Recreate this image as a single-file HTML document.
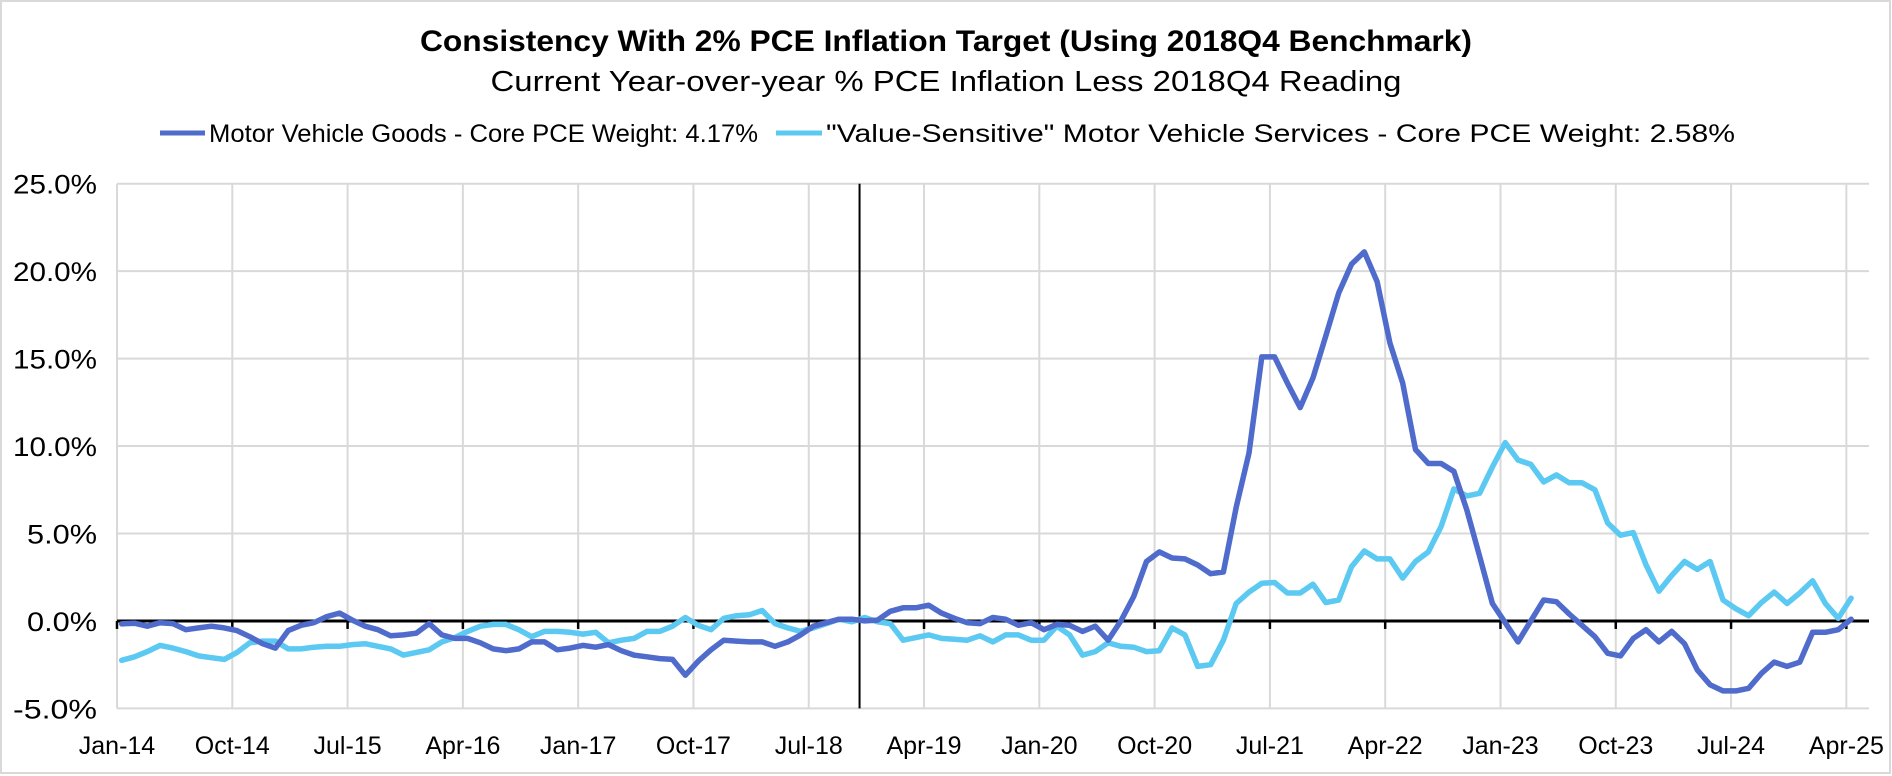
<!DOCTYPE html>
<html><head><meta charset="utf-8">
<style>
html,body{margin:0;padding:0;background:#fff;}
svg{display:block;font-family:"Liberation Sans",Arial,sans-serif;}
</style></head>
<body>
<svg id="chart" width="1892" height="776" viewBox="0 0 1892 776" xmlns="http://www.w3.org/2000/svg">
<rect x="1" y="1" width="1889" height="772" fill="#fff" stroke="#d9d9d9" stroke-width="2"/>
<text x="946" y="51" text-anchor="middle" font-size="30" font-weight="bold" fill="#000" textLength="1052" lengthAdjust="spacingAndGlyphs">Consistency With 2% PCE Inflation Target (Using 2018Q4 Benchmark)</text>
<text x="946" y="91" text-anchor="middle" font-size="29" fill="#000" textLength="911" lengthAdjust="spacingAndGlyphs">Current Year-over-year % PCE Inflation Less 2018Q4 Reading</text>
<g>
<g>
<line x1="160" y1="133" x2="205" y2="133" stroke="#4F6BCB" stroke-width="5"/>
<text x="209" y="142" font-size="25" textLength="549" lengthAdjust="spacingAndGlyphs">Motor Vehicle Goods - Core PCE Weight: 4.17%</text>
</g>
<g>
<line x1="776" y1="133" x2="822" y2="133" stroke="#5BC9F1" stroke-width="5"/>
<text x="826" y="142" font-size="25" textLength="909" lengthAdjust="spacingAndGlyphs">"Value-Sensitive" Motor Vehicle Services - Core PCE Weight: 2.58%</text>
</g>
</g>
<g id="grid"></g>
<g id="yaxis"></g>
<g id="xaxis"></g>
<g id="series"></g>
</svg>
<script>
const yTicks = [-5, 0, 5, 10, 15, 20, 25];
const xTickLabels = ["Jan-14","Oct-14","Jul-15","Apr-16","Jan-17","Oct-17","Jul-18","Apr-19","Jan-20","Oct-20","Jul-21","Apr-22","Jan-23","Oct-23","Jul-24","Apr-25"];
const benchmarkIndex = 57.6;
const goods = [-0.17,-0.13,-0.3,-0.1,-0.15,-0.5,-0.4,-0.3,-0.4,-0.55,-0.9,-1.3,-1.55,-0.55,-0.25,-0.1,0.25,0.45,0.05,-0.3,
-0.5,-0.85,-0.8,-0.7,-0.15,-0.8,-1.0,-1.0,-1.25,-1.6,-1.7,-1.6,-1.2,-1.2,-1.65,-1.55,-1.4,-1.5,-1.35,-1.7,
-1.95,-2.05,-2.15,-2.2,-3.1,-2.3,-1.65,-1.1,-1.15,-1.2,-1.2,-1.45,-1.2,-0.8,-0.3,-0.1,0.1,0.1,0.0,0.05,
0.55,0.75,0.75,0.9,0.45,0.15,-0.1,-0.15,0.2,0.1,-0.25,-0.1,-0.5,-0.2,-0.25,-0.6,-0.3,-1.1,0.0,1.4,
3.4,3.95,3.6,3.55,3.2,2.7,2.8,6.5,9.6,15.1,15.1,13.6,12.2,13.9,16.3,18.75,20.4,21.1,19.4,15.9,
13.6,9.8,9.0,9.0,8.55,6.35,3.7,1.0,-0.1,-1.2,0.0,1.2,1.1,0.4,-0.25,-0.9,-1.85,-2.0,-1.0,-0.5,
-1.2,-0.6,-1.3,-2.8,-3.65,-4.0,-4.0,-3.85,-3.0,-2.35,-2.6,-2.35,-0.65,-0.65,-0.5,0.1];
const services = [-2.25,-2.05,-1.75,-1.4,-1.55,-1.75,-2.0,-2.1,-2.2,-1.8,-1.25,-1.15,-1.15,-1.6,-1.6,-1.5,-1.45,-1.45,-1.35,-1.3,
-1.45,-1.6,-1.95,-1.8,-1.65,-1.2,-0.95,-0.6,-0.3,-0.2,-0.2,-0.5,-0.9,-0.6,-0.6,-0.65,-0.75,-0.65,-1.25,-1.1,
-1.0,-0.6,-0.6,-0.3,0.2,-0.25,-0.5,0.15,0.3,0.35,0.6,-0.15,-0.4,-0.6,-0.4,-0.15,0.1,-0.05,0.2,-0.05,
-0.15,-1.1,-0.95,-0.8,-1.0,-1.05,-1.1,-0.85,-1.2,-0.8,-0.8,-1.1,-1.1,-0.3,-0.8,-1.95,-1.75,-1.25,-1.45,-1.5,
-1.75,-1.7,-0.4,-0.8,-2.6,-2.5,-1.1,1.0,1.65,2.15,2.2,1.6,1.6,2.1,1.05,1.2,3.1,4.0,3.55,3.55,
2.45,3.4,3.95,5.4,7.55,7.15,7.3,8.8,10.2,9.2,8.95,7.95,8.35,7.9,7.9,7.5,5.6,4.9,5.05,3.2,
1.7,2.6,3.4,2.95,3.4,1.2,0.7,0.3,1.05,1.65,1.0,1.6,2.3,1.0,0.15,1.3];

const NS = "http://www.w3.org/2000/svg";
const plotL = 117, plotR = 1869, yTop = 183.7, yBot = 708.4;
const firstPointX = 121.7, monthPx = 12.81;
function xIdx(i){ return firstPointX + i*monthPx; }
function xTick(k){ return plotL + k*9*monthPx; }
function y(v){ return yBot - (v - yTicks[0])/(yTicks[yTicks.length-1]-yTicks[0])*(yBot-yTop); }
function mk(tag, attrs, parent){ const e=document.createElementNS(NS,tag); for(const k in attrs) e.setAttribute(k,attrs[k]); parent.appendChild(e); return e; }

const grid=document.getElementById('grid'), ya=document.getElementById('yaxis'), xa=document.getElementById('xaxis'), sg=document.getElementById('series');
yTicks.forEach(v=>{
  if(v!==0){ const l=mk('line',{x1:plotL,x2:plotR,y1:y(v),y2:y(v),stroke:'#d9d9d9','stroke-width':2},grid);
  
   }
  const lab=v.toFixed(1)+'%';
  const w = lab.length===5 ? 84 : 70;
  const t=mk('text',{x:97,y:y(v)+10,'text-anchor':'end','font-size':27,fill:'#000',textLength:w,lengthAdjust:'spacingAndGlyphs'},ya);
  t.textContent=lab;
  
  
});
xTickLabels.forEach((lab,k)=>{
  const x=xTick(k);
  const g=mk('line',{x1:x,x2:x,y1:yTop,y2:yBot,stroke:'#d9d9d9','stroke-width':2},grid);
  
  
  const tk=mk('line',{x1:x,x2:x,y1:y(0),y2:y(0)+8,stroke:'#000','stroke-width':2.5},xa);
  
  
  const t=mk('text',{x:x,y:754,'text-anchor':'middle','font-size':25,fill:'#000'},xa);
  t.textContent=lab;
  
  
});
const zl=mk('line',{x1:plotL,x2:plotR,y1:y(0),y2:y(0),stroke:'#000','stroke-width':3},xa);


const bl=mk('line',{x1:xIdx(benchmarkIndex),x2:xIdx(benchmarkIndex),y1:yTop,y2:yBot,stroke:'#000','stroke-width':2},xa);



function drawLine(data,color,name){
  const d=data.map((v,i)=>(i?'L':'M')+xIdx(i).toFixed(1)+' '+y(v).toFixed(1)).join(' ');
  const p=mk('path',{d:d,fill:'none',stroke:color,'stroke-width':5.5,'stroke-linejoin':'round','stroke-linecap':'round'},sg);
  
  
}
drawLine(services,'#5BC9F1','services-line');
drawLine(goods,'#4F6BCB','goods-line');
</script>
</body></html>
